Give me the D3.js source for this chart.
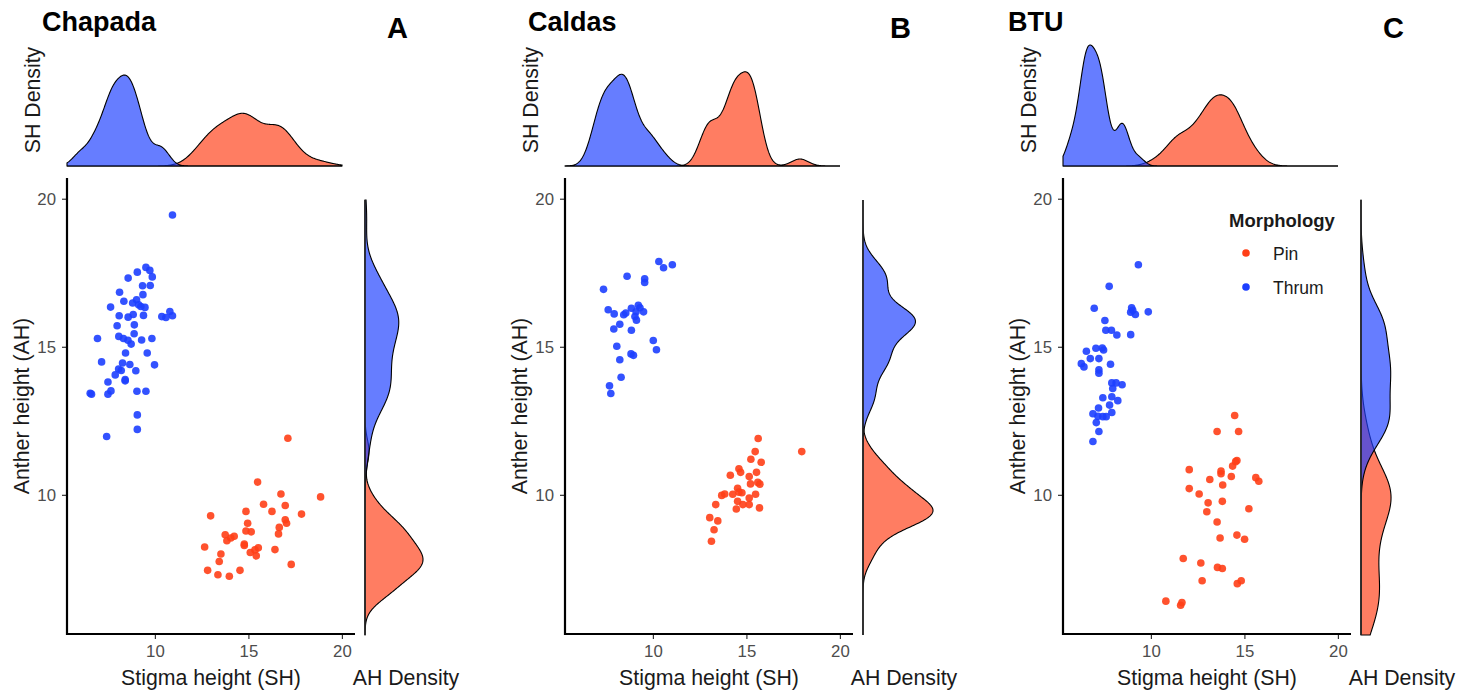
<!DOCTYPE html>
<html><head><meta charset="utf-8">
<script src="https://cdn.jsdelivr.net/npm/d3@7"></script>
<style>
body{margin:0;background:#fff}
svg{display:block}
text{font-family:"Liberation Sans", Arial, Helvetica, sans-serif}
</style>
</head><body>
<svg id="chart" width="1468" height="693"></svg>
<script>
// ---------------- data ----------------
const sites = ["Chapada", "Caldas", "BTU"];
const panelLetters = ["A", "B", "C"];
const morphs = ["Pin", "Thrum"];
const tickValues = [10, 15, 20];
const axisLimits = [6, 20];

// [stigma height (SH), anther height (AH)]
const chapadaThrum = [
  [10.94,19.45],[9.52,17.68],[9.73,17.58],[9.06,17.52],[8.57,17.32],[9.86,17.36],[9.34,17.06],[9.75,17.07],
  [8.11,16.84],[9.36,16.76],[8.34,16.54],[8.81,16.48],[9.02,16.59],[9.13,16.42],[9.25,16.36],[9.47,16.33],
  [7.63,16.34],[8.09,16.05],[8.84,16.09],[8.57,16.00],[9.39,16.06],[10.37,16.02],[10.59,15.99],[10.80,16.19],
  [10.94,16.05],[7.98,15.71],[8.90,15.74],[6.93,15.28],[8.07,15.35],[8.32,15.28],[8.56,15.22],[8.89,15.44],
  [8.73,15.09],[9.29,15.23],[9.84,15.28],[8.43,14.79],[9.59,14.79],[7.15,14.49],[8.27,14.45],[8.66,14.40],
  [9.98,14.39],[8.06,14.25],[8.20,14.20],[8.98,14.19],[7.88,14.05],[8.41,13.89],[8.41,13.85],[7.49,13.81],
  [6.54,13.43],[6.61,13.40],[7.49,13.40],[7.65,13.51],[9.04,13.50],[9.52,13.50],[9.06,12.70],[9.06,12.21],
  [7.42,11.97]
];
const chapadaPin = [
  [17.11,11.91],[15.49,10.43],[16.74,10.03],[15.81,9.68],[18.86,9.93],[16.97,9.64],[16.26,9.44],[14.87,9.44],
  [17.84,9.35],[12.98,9.29],[16.97,9.16],[17.04,9.04],[14.96,9.04],[16.65,8.90],[14.87,8.78],[15.15,8.75],
  [16.61,8.68],[13.76,8.65],[14.24,8.60],[14.06,8.54],[13.85,8.45],[14.78,8.34],[14.78,8.29],[12.66,8.24],
  [15.53,8.21],[15.35,8.14],[15.10,8.05],[15.42,7.94],[16.42,8.15],[13.53,8.00],[13.44,7.75],[17.29,7.65],
  [12.82,7.45],[14.55,7.45],[13.37,7.30],[13.98,7.25]
];
const caldasThrum = [
  [10.32,17.88],[10.57,17.67],[11.04,17.77],[8.62,17.38],[9.56,17.30],[9.56,17.17],[7.36,16.94],[7.61,16.25],
  [7.93,16.11],[8.44,16.08],[8.55,16.14],[8.85,16.30],[9.22,16.40],[9.31,16.32],[9.50,16.18],[9.10,16.18],
  [9.04,16.02],[9.12,15.90],[8.23,15.76],[7.91,15.60],[8.85,15.56],[10.02,15.21],[10.19,14.90],[8.07,15.02],
  [8.83,14.76],[8.96,14.71],[8.23,14.56],[8.30,13.97],[7.68,13.68],[7.75,13.42]
];
const caldasPin = [
  [15.63,11.90],[15.47,11.46],[17.96,11.46],[15.24,11.20],[15.79,11.10],[14.60,10.88],[14.69,10.76],[14.14,10.66],
  [15.54,10.76],[15.15,10.62],[15.22,10.37],[15.61,10.42],[15.72,10.36],[14.53,10.22],[14.60,10.09],[14.76,10.07],
  [14.27,10.02],[15.49,10.02],[13.84,10.03],[13.68,9.98],[15.15,9.89],[14.53,9.78],[14.81,9.67],[15.15,9.67],
  [13.36,9.67],[14.46,9.52],[15.70,9.56],[13.04,9.23],[13.47,9.12],[13.27,8.82],[13.13,8.43]
];
const btuThrum = [
  [9.33,17.77],[7.77,17.04],[6.97,16.30],[8.97,16.32],[9.03,16.23],[8.92,16.17],[9.17,16.09],[9.86,16.18],
  [7.54,15.89],[7.59,15.56],[7.89,15.56],[8.18,15.40],[8.92,15.41],[7.06,14.95],[7.40,14.96],[7.47,14.89],
  [6.55,14.85],[6.76,14.60],[7.22,14.60],[6.28,14.43],[6.42,14.32],[7.84,14.41],[7.22,14.22],[7.22,14.11],
  [7.91,13.78],[8.14,13.78],[8.46,13.72],[7.96,13.59],[7.43,13.28],[7.91,13.31],[8.23,13.18],[7.79,13.03],
  [7.91,12.78],[7.20,12.93],[6.90,12.74],[7.17,12.65],[7.43,12.64],[7.61,12.64],[7.08,12.44],[7.22,12.14],
  [6.90,11.80]
];
const btuPin = [
  [14.48,12.68],[13.54,12.14],[14.69,12.14],[14.60,11.16],[14.53,11.12],[14.37,10.97],[12.05,10.85],[13.75,10.80],
  [13.75,10.71],[14.30,10.62],[13.15,10.52],[15.61,10.58],[15.77,10.46],[13.84,10.33],[12.05,10.21],[12.58,10.03],
  [13.06,9.73],[13.82,9.78],[12.99,9.43],[15.24,9.53],[13.54,9.08],[13.70,8.54],[14.60,8.64],[15.01,8.50],
  [11.73,7.85],[12.67,7.70],[13.56,7.55],[13.82,7.51],[12.74,7.10],[14.62,7.00],[14.83,7.10],[10.80,6.41],
  [11.59,6.27],[11.66,6.36]
];
const pinData = [chapadaPin, caldasPin, btuPin];
const thrumData = [chapadaThrum, caldasThrum, btuThrum];

// ---------------- styles ----------------
const pointColor = {Pin: "#ff3f17", Thrum: "#1d3fff"};
const fillColor = {Pin: "#ff3f17", Thrum: "#1d3fff"};
const fillAlpha = 0.68;

// ---------------- helpers ----------------
function bwNrd0(v) {
  const s = [...v].sort(d3.ascending);
  const sd = d3.deviation(s);
  const iqr = d3.quantileSorted(s, 0.75) - d3.quantileSorted(s, 0.25);
  let lo = Math.min(sd, iqr / 1.34);
  if (!lo) lo = sd || Math.abs(s[0]) || 1;
  return 0.9 * lo * Math.pow(s.length, -0.2);
}
function kde(v, lo, hi, n) {
  const bw = bwNrd0(v);
  const c = 1 / (v.length * bw * Math.sqrt(2 * Math.PI));
  const out = [];
  for (let i = 0; i < n; i++) {
    const x = lo + (hi - lo) * i / (n - 1);
    let s = 0;
    for (const d of v) { const z = (x - d) / bw; s += Math.exp(-0.5 * z * z); }
    out.push([x, s * c]);
  }
  return out;
}

const svg = d3.select("#chart");
const panelStep = 498;
const expand = (axisLimits[1] - axisLimits[0]) * 0.05;
const scatterDomain = [axisLimits[0] - expand, axisLimits[1] + expand];

// precompute densities
const dens = sites.map((s, i) => {
  const groups = {Pin: pinData[i], Thrum: thrumData[i]};
  const o = {};
  morphs.forEach(m => {
    o[m] = {
      sh: kde(groups[m].map(d => d[0]), axisLimits[0], axisLimits[1], 512),
      ah: kde(groups[m].map(d => d[1]), axisLimits[0], axisLimits[1], 512)
    };
  });
  return o;
});
const topMax = d3.max(dens, o => d3.max(morphs, m => d3.max(o[m].sh, d => d[1])));
const rightMax = d3.max(dens, o => d3.max(morphs, m => d3.max(o[m].ah, d => d[1])));

sites.forEach((site, i) => {
  const ox = i * panelStep;
  const g = svg.append("g");
  const x = d3.scaleLinear().domain(scatterDomain).range([67 + ox, 355 + ox]);
  const y = d3.scaleLinear().domain(scatterDomain).range([634, 178]);

  // ---- titles ----
  const titleX = [42, 528, 1008][i];
  g.append("text").attr("x", titleX).attr("y", 31)
    .attr("font-size", 27).attr("font-weight", "bold").attr("fill", "#000").text(site);
  g.append("text").attr("x", [387, 890, 1383][i]).attr("y", 38)
    .attr("font-size", 29).attr("font-weight", "bold").attr("fill", "#000").text(panelLetters[i]);

  // ---- top density (SH) ----
  const tx = d3.scaleLinear().domain(axisLimits).range([67 + ox, 342 + ox]);
  const ty = d3.scaleLinear().domain([0, topMax]).range([166, 45]);
  const areaTop = d3.area().x(d => tx(d[0])).y0(ty(0)).y1(d => ty(d[1]));
  morphs.forEach(m => {
    g.append("path").datum(dens[i][m].sh).attr("d", areaTop)
      .attr("fill", fillColor[m]).attr("fill-opacity", fillAlpha)
      .attr("stroke", "#000").attr("stroke-width", 1.1);
  });
  g.append("text").attr("transform", `translate(${40 + ox},100) rotate(-90)`)
    .attr("text-anchor", "middle").attr("font-size", 21.3).attr("fill", "#1a1a1a").text("SH Density");

  // ---- right density (AH) ----
  const ry = d3.scaleLinear().domain(axisLimits).range([635, 200]);
  const rx = d3.scaleLinear().domain([0, rightMax]).range([365 + ox, 435 + ox]);
  const areaRight = d3.area().y(d => ry(d[0])).x0(rx(0)).x1(d => rx(d[1]));
  morphs.forEach(m => {
    g.append("path").datum(dens[i][m].ah).attr("d", areaRight)
      .attr("fill", fillColor[m]).attr("fill-opacity", fillAlpha)
      .attr("stroke", "#000").attr("stroke-width", 1.1);
  });
  g.append("line").attr("x1", rx(0)).attr("x2", rx(0)).attr("y1", ry(axisLimits[0])).attr("y2", ry(axisLimits[1]))
    .attr("stroke", "#333").attr("stroke-width", 1.2);
  g.append("text").attr("x", 406 + ox).attr("y", 685).attr("text-anchor", "middle")
    .attr("font-size", 21.3).attr("fill", "#1a1a1a").text("AH Density");

  // ---- scatter axes ----
  const xAxis = d3.axisBottom(x).tickValues(tickValues).tickSize(5).tickPadding(6);
  const yAxis = d3.axisLeft(y).tickValues(tickValues).tickSize(5).tickPadding(6);
  const gx = g.append("g").attr("transform", `translate(0,634)`).call(xAxis);
  const gy = g.append("g").attr("transform", `translate(${67 + ox},0)`).call(yAxis);
  [gx, gy].forEach(a => {
    a.select(".domain").remove();
    a.selectAll(".tick line").attr("stroke", "#333").attr("stroke-width", 1.2);
    a.selectAll(".tick text").attr("fill", "#4d4d4d").attr("font-size", 16.8)
      .attr("font-family", "Liberation Sans, Arial, sans-serif");
  });
  gx.selectAll(".tick text").attr("dy", "0.71em");
  // axis lines
  g.append("path").attr("d", `M${x.range()[0]},${y.range()[1]}V${y.range()[0]}H${x.range()[1]}`)
    .attr("fill", "none").attr("stroke", "#000").attr("stroke-width", 2.2);

  // ---- points ----
  [["Pin", pinData[i]], ["Thrum", thrumData[i]]].forEach(([m, arr]) => {
    g.append("g").selectAll("circle").data(arr).join("circle")
      .attr("cx", d => x(d[0])).attr("cy", d => y(d[1])).attr("r", 3.8)
      .attr("fill", pointColor[m]).attr("fill-opacity", 0.9);
  });

  // ---- axis titles ----
  g.append("text").attr("x", (x.range()[0] + x.range()[1]) / 2).attr("y", 685)
    .attr("text-anchor", "middle").attr("font-size", 21.3).attr("fill", "#1a1a1a").text("Stigma height (SH)");
  g.append("text").attr("transform", `translate(${29 + ox},406) rotate(-90)`)
    .attr("text-anchor", "middle").attr("font-size", 21.3).attr("fill", "#1a1a1a").text("Anther height (AH)");
});

// ---- legend (panel C) ----
const lg = svg.append("g");
lg.append("text").attr("x", 1229).attr("y", 227).attr("font-size", 18.5).attr("font-weight", "bold")
  .attr("fill", "#1a1a1a").text("Morphology");
morphs.forEach((m, k) => {
  lg.append("circle").attr("cx", 1246).attr("cy", 253 + k * 34).attr("r", 3.8).attr("fill", pointColor[m]);
  lg.append("text").attr("x", 1273).attr("y", 260 + k * 34).attr("font-size", 17.5).attr("fill", "#1a1a1a").text(m);
});
</script>
</body></html>
